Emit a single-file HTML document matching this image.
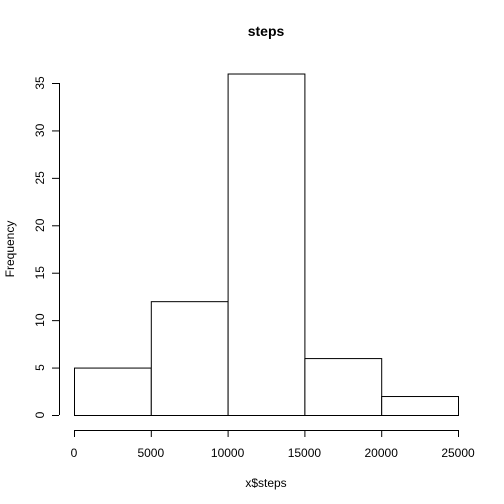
<!DOCTYPE html>
<html><head><meta charset="utf-8"><style>
body{margin:0;background:#fff}
svg{display:block;font-family:"Liberation Sans",Arial,sans-serif}
</style></head><body>
<svg id="c" width="504" height="504" viewBox="0 0 504 504">
<rect width="504" height="504" fill="#fff"/>
<text x="266" y="36" text-anchor="middle" font-weight="bold" font-size="14">steps</text>
<text x="266" y="487" text-anchor="middle" font-size="12">x$steps</text>
<text transform="translate(14,249) rotate(-90)" text-anchor="middle" font-size="12">Frequency</text>
<g id="bars"></g><g id="xa"></g><g id="ya"></g>
</svg>
<script>
const binEdges=[0,5000,10000,15000,20000,25000];
const counts=[5,12,36,6,2];
const xTicks=[0,5000,10000,15000,20000,25000];
const yTicks=[0,5,10,15,20,25,30,35];
const ns="http://www.w3.org/2000/svg";
function X(v){return 74+(v-0)*(458-74)/25000;}
function Y(v){return 415-v*(415-83)/35;}
function mk(t,a,p){const e=document.createElementNS(ns,t);for(const k in a)e.setAttribute(k,a[k]);p.appendChild(e);return e;}
const bars=document.getElementById('bars');
counts.forEach((c,i)=>{
 const r=mk('rect',{x:X(binEdges[i])+0.5,y:Y(c)+0.5,width:X(binEdges[i+1])-X(binEdges[i]),height:Y(0)-Y(c),fill:'#fff',stroke:'#000','stroke-width':1},bars);
 
 
});
const xa=document.getElementById('xa');


mk('line',{x1:X(xTicks[0]),x2:X(xTicks[xTicks.length-1]),y1:430.5,y2:430.5,stroke:'#000'},xa);
xTicks.forEach(t=>{
 mk('line',{x1:X(t)+0.5,x2:X(t)+0.5,y1:430,y2:437,stroke:'#000'},xa);
 const tx=mk('text',{x:X(t),y:457,'text-anchor':'middle','font-size':12},xa);tx.textContent=t;
 
 
});
const ya=document.getElementById('ya');


mk('line',{x1:59.5,x2:59.5,y1:Y(yTicks[0]),y2:Y(yTicks[yTicks.length-1]),stroke:'#000'},ya);
yTicks.forEach(t=>{
 mk('line',{x1:52,x2:59,y1:Y(t)+0.5,y2:Y(t)+0.5,stroke:'#000'},ya);
 const tx=mk('text',{transform:`translate(44,${Y(t)}) rotate(-90)`,'text-anchor':'middle','font-size':12},ya);tx.textContent=t;
 
 
});
</script>
</body></html>
